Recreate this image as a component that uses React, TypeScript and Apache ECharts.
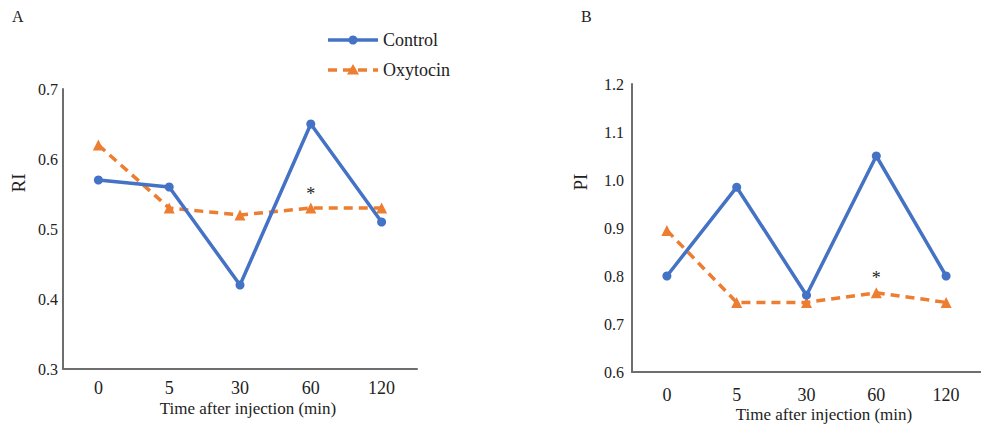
import React, { useEffect, useRef } from "react";
import * as echarts from "echarts";

const categories = ["0", "5", "30", "60", "120"];
const riControl = [0.57, 0.56, 0.42, 0.65, 0.51];
const riOxytocin = [0.62, 0.53, 0.52, 0.53, 0.53];
const piControl = [0.8, 0.985, 0.76, 1.05, 0.8];
const piOxytocin = [0.895, 0.745, 0.745, 0.765, 0.745];
const seriesNames = ["Control", "Oxytocin"];
const significantIndex = 3;

const FONT = "Liberation Serif";
const BLUE = "#4472C4";
const ORANGE = "#ED7D31";
const AXIS = "#6e6e6e";
const TEXT = "#222";
const DASH = [9, 6];

function withStar(values: number[]) {
  return values.map((v, i) =>
    i === significantIndex
      ? {
          value: v,
          label: {
            show: true,
            formatter: "*",
            position: "top",
            distance: 0,
            color: "#222",
            fontFamily: FONT,
            fontSize: 18,
          },
        }
      : v
  );
}

export default function App() {
  const ref = useRef<HTMLDivElement>(null);
  useEffect(() => {
    if (!ref.current) return;
    document.body.style.margin = "0";
    document.body.style.overflow = "hidden";
    const chart = echarts.init(ref.current, null, { renderer: "svg" });
    const xAxisBase = (gridIndex: number, margin: number) => ({
      type: "category",
      gridIndex,
      data: categories,
      boundaryGap: true,
      axisLine: { lineStyle: { color: AXIS, width: 2 } },
      axisTick: { show: false },
      axisLabel: { color: TEXT, fontFamily: FONT, fontSize: 18, margin },
      splitLine: { show: false },
    });
    const yAxisBase = (gridIndex: number, min: number, max: number, margin: number) => ({
      type: "value",
      gridIndex,
      min,
      max,
      interval: 0.1,
      axisLine: { show: true, lineStyle: { color: AXIS, width: 2 } },
      axisTick: { show: false },
      splitLine: { show: false },
      axisLabel: {
        color: TEXT,
        fontFamily: FONT,
        fontSize: 16,
        margin,
        formatter: (v: number) => v.toFixed(1),
      },
    });
    const controlStyle = (xi: number, data: number[]) => ({
      name: seriesNames[0],
      type: "line",
      xAxisIndex: xi,
      yAxisIndex: xi,
      data,
      symbol: "circle",
      symbolSize: 9,
      itemStyle: { color: BLUE },
      lineStyle: { color: BLUE, width: 3.5 },
      z: 3,
    });
    const oxyStyle = (xi: number, data: number[]) => ({
      name: seriesNames[1],
      type: "line",
      xAxisIndex: xi,
      yAxisIndex: xi,
      data: withStar(data),
      symbol: "triangle",
      symbolSize: 11,
      itemStyle: { color: ORANGE },
      lineStyle: { color: ORANGE, width: 3.5, type: DASH },
      z: 2,
    });
    const legendItem = (i: number, y: number) => {
      const color = i === 0 ? BLUE : ORANGE;
      const marker =
        i === 0
          ? { type: "circle", shape: { cx: 353, cy: y, r: 4.5 }, style: { fill: color } }
          : {
              type: "polygon",
              shape: { points: [[353, y - 6], [359, y + 4.5], [347, y + 4.5]] },
              style: { fill: color },
            };
      return [
        {
          type: "line",
          shape: { x1: 328, y1: y, x2: 378, y2: y },
          style: { stroke: color, lineWidth: 3.5, lineDash: i === 0 ? null : DASH },
        },
        marker,
        {
          type: "text",
          x: 383,
          y,
          style: {
            text: seriesNames[i],
            font: `18px ${FONT}`,
            fill: TEXT,
            align: "left",
            verticalAlign: "middle",
          },
        },
      ];
    };
    chart.setOption({
      animation: false,
      backgroundColor: "#ffffff",
      textStyle: { fontFamily: FONT },
      grid: [
        { left: 63, top: 89, width: 354, height: 280 },
        { left: 632, top: 84, width: 361, height: 288 },
      ],
      xAxis: [xAxisBase(0, 10), xAxisBase(1, 14)],
      yAxis: [yAxisBase(0, 0.3, 0.7, 5), yAxisBase(1, 0.6, 1.2, 8)],
      series: [
        controlStyle(0, riControl),
        oxyStyle(0, riOxytocin),
        controlStyle(1, piControl),
        oxyStyle(1, piOxytocin),
      ],
      graphic: [
        ...legendItem(0, 40),
        ...legendItem(1, 70),
        { type: "text", left: 12, top: 8, style: { text: "A", font: `16px ${FONT}`, fill: TEXT } },
        { type: "text", left: 581, top: 8, style: { text: "B", font: `16px ${FONT}`, fill: TEXT } },
        {
          type: "text",
          x: 18,
          y: 183,
          rotation: Math.PI / 2,
          style: { text: "RI", font: `19px ${FONT}`, fill: TEXT, align: "center", verticalAlign: "middle" },
        },
        {
          type: "text",
          x: 580,
          y: 182,
          rotation: Math.PI / 2,
          style: { text: "PI", font: `19px ${FONT}`, fill: TEXT, align: "center", verticalAlign: "middle" },
        },
        {
          type: "text",
          x: 248,
          y: 408,
          style: { text: "Time after injection (min)", font: `17px ${FONT}`, fill: TEXT, align: "center", verticalAlign: "middle" },
        },
        {
          type: "text",
          x: 824,
          y: 414,
          style: { text: "Time after injection (min)", font: `17px ${FONT}`, fill: TEXT, align: "center", verticalAlign: "middle" },
        },
      ],
    });
    return () => chart.dispose();
  }, []);
  return (
    <div style={{ position: "fixed", left: 0, top: 0, width: 981, height: 427, overflow: "hidden" }}>
      <div ref={ref} style={{ width: 981, height: 427 }} />
    </div>
  );
}
